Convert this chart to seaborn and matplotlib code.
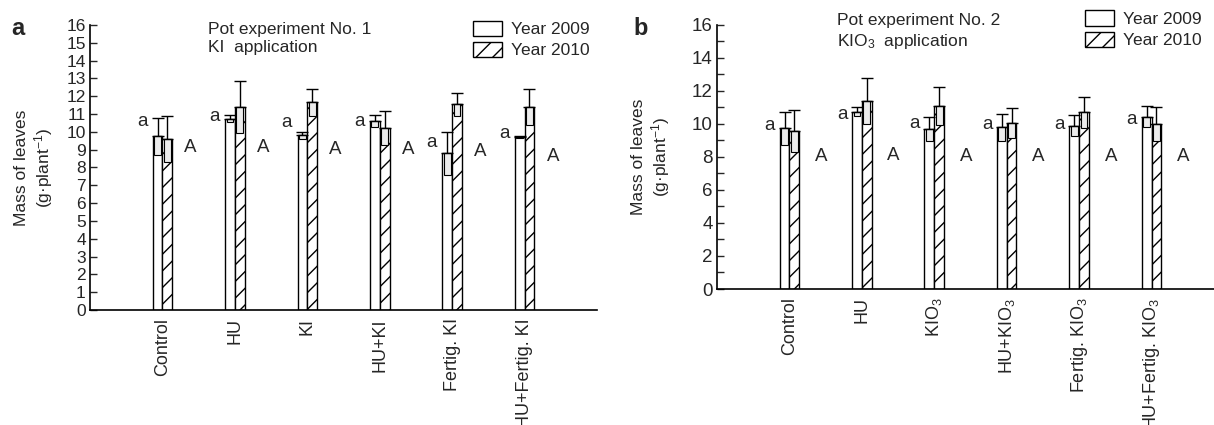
import numpy as np
import pandas as pd
import seaborn as sns
import matplotlib.pyplot as plt
from matplotlib.patches import Patch

# Panel a: pot experiment No. 1 (KI)
treat_a = ["Control", "HU", "KI", "HU+KI", "Fertig. KI", "HU+Fertig. KI"]
mass09_a = [9.75, 10.75, 9.8, 10.6, 8.8, 9.7]
err09_a = [1.05, 0.22, 0.2, 0.35, 1.2, 0.05]
mass10_a = [9.6, 11.4, 11.65, 10.2, 11.55, 11.4]
err10_a = [1.3, 1.45, 0.75, 0.95, 0.65, 1.0]
low_a = ["a"] * 6
low_y_a = [10.6, 10.85, 10.55, 10.6, 9.4, 9.9]
up_a = ["A"] * 6
up_y_a = [9.1, 9.1, 9.0, 9.0, 8.9, 8.6]

# Panel b: pot experiment No. 2 (KIO3)
treat_b = ["Control", "HU", "KIO$_3$", "HU+KIO$_3$", "Fertig. KIO$_3$", "HU+Fertig. KIO$_3$"]
mass09_b = [9.75, 10.75, 9.7, 9.8, 9.9, 10.45]
err09_b = [1.0, 0.25, 0.72, 0.82, 0.64, 0.65]
mass10_b = [9.6, 11.4, 11.1, 10.05, 10.7, 10.0]
err10_b = [1.27, 1.4, 1.17, 0.9, 0.92, 1.05]
low_b = ["a"] * 6
low_y_b = [9.9, 10.6, 10.0, 9.95, 9.95, 10.3]
up_b = ["A"] * 6
up_y_b = [8.05, 8.1, 8.05, 8.05, 8.05, 8.05]

years = ["Year 2009", "Year 2010"]

sns.set_style("ticks")
plt.rcParams['font.family'] = ['Liberation Sans', 'DejaVu Sans']
plt.rcParams['mathtext.default'] = 'regular'
plt.rcParams['hatch.linewidth'] = 1.0


def draw_panel(ax, treat, m09, e09, m10, e10, lows, low_y, ups, up_y, ymax, step, tick_fs, a_dx, A_dx):
    n = len(treat)
    df = pd.DataFrame({"treatment": treat * 2,
                       "year": [years[0]] * n + [years[1]] * n,
                       "mass": m09 + m10})
    sns.barplot(data=df, x="treatment", y="mass", hue="year", order=treat,
                palette=["white", "white"], width=0.27, gap=0, edgecolor="black",
                linewidth=1, errorbar=None, legend=False, ax=ax)
    for k, (cont, means, errs) in enumerate(zip(ax.containers, [m09, m10], [e09, e10])):
        xs = [b.get_x() + b.get_width() / 2 for b in cont]
        w = cont[0].get_width()
        if k == 1:
            for b in cont:
                b.set_hatch("//")
        means = np.array(means)
        errs = np.array(errs)
        # lower half of the error shown as a small box inside the bar
        ax.bar(xs, errs, bottom=means - errs, width=w * 0.7, color="#ececec",
               edgecolor="black", linewidth=0.8, zorder=3)
        ax.errorbar(xs, means, yerr=[np.zeros(n), errs], fmt="none", ecolor="black",
                    elinewidth=1, capsize=4, capthick=1, zorder=4)
    for i in range(n):
        ax.text(i + a_dx, low_y[i], lows[i], ha="center", va="center", fontsize=13.5)
        ax.text(i + A_dx, up_y[i], ups[i], ha="center", va="center", fontsize=13.5)

    ax.set_xlim(-1, 6)
    ax.set_ylim(0, 16)
    ax.set_yticks(np.arange(0, ymax + 1, step))
    ax.set_yticks(np.arange(0, ymax + 1, 1), minor=True)
    ax.tick_params(axis="y", direction="in", length=5, width=1, labelsize=tick_fs, pad=3)
    ax.tick_params(axis="y", which="minor", direction="in", length=5, width=1)
    ax.tick_params(axis="x", length=0, labelsize=13, pad=6)
    ax.set_xticks(range(n))
    ax.set_xticklabels(treat, rotation=90, va="top", ha="center")
    ax.set_xlabel("")
    ax.set_ylabel("Mass of leaves\n(g·plant$^{-1}$)", fontsize=12.5, linespacing=1.15)
    sns.despine(ax=ax)
    for s in ["left", "bottom"]:
        ax.spines[s].set_linewidth(1.2)
        ax.spines[s].set_color("black")


fig = plt.figure(figsize=(12.14, 4.25), dpi=100)
ax1 = fig.add_axes([0.0741, 0.2706, 0.4177, 0.6706])
ax2 = fig.add_axes([0.5906, 0.32, 0.4176, 0.6212])

draw_panel(ax1, treat_a, mass09_a, err09_a, mass10_a, err10_a,
           low_a, low_y_a, up_a, up_y_a, 16, 1, 12.5, -0.28, 0.39)
draw_panel(ax2, treat_b, mass09_b, err09_b, mass10_b, err10_b,
           low_b, low_y_b, up_b, up_y_b, 16, 2, 13.5, -0.27, 0.44)

ax1.yaxis.set_label_coords(-0.069, 0.5)
ax2.yaxis.set_label_coords(-0.089, 0.5)

ax1.text(0.233, 1.01, "Pot experiment No. 1\nKI  application", transform=ax1.transAxes,
         ha="left", va="top", fontsize=12.5, linespacing=1.25)
ax2.text(0.237, 1.045, "Pot experiment No. 2\nKIO$_3$  application", transform=ax2.transAxes,
         ha="left", va="top", fontsize=12.5, linespacing=1.25)

handles = [Patch(facecolor="white", edgecolor="black", label=years[0]),
           Patch(facecolor="white", edgecolor="black", hatch="//", label=years[1])]
for ax, anchor in [(ax1, (0.755, 1.015)), (ax2, (0.725, 1.055))]:
    ax.legend(handles=handles, loc="upper left", bbox_to_anchor=anchor, frameon=False,
              fontsize=12.5, handlelength=1.7, handleheight=1.0, handletextpad=0.5,
              labelspacing=0.25, borderpad=0, borderaxespad=0)

fig.text(0.009, 0.918, "a", fontsize=17, fontweight="bold")
fig.text(0.522, 0.918, "b", fontsize=17, fontweight="bold")

plt.savefig("out.png", dpi=100)
